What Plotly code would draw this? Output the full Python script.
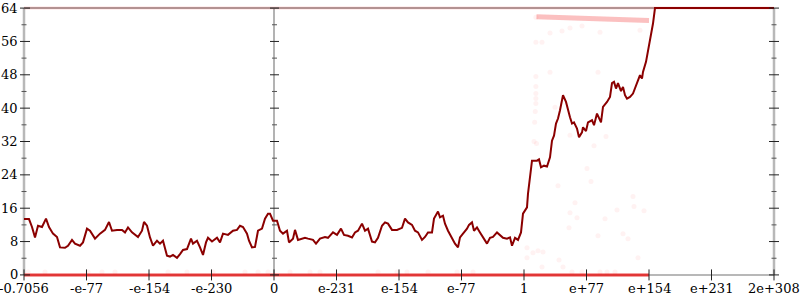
import plotly.graph_objects as go

# ---------------- data ----------------
tick_labels = ["-0.7056", "-e-77", "-e-154", "-e-230", "0", "e-231", "e-154",
               "e-77", "1", "e+77", "e+154", "e+231", "2e+308"]
tick_pos = list(range(len(tick_labels)))
y_major = [0, 8, 16, 24, 32, 40, 48, 56, 64]
y_minor = [4, 12, 20, 28, 36, 44, 52, 60]

err_x = [0, 0.08, 0.128, 0.176, 0.224, 0.288, 0.352, 0.4, 0.464, 0.528, 0.576, 0.656,
         0.704, 0.768, 0.816, 0.896, 0.944, 1.008, 1.056, 1.136, 1.216, 1.296, 1.36,
         1.408, 1.488, 1.568, 1.616, 1.664, 1.728, 1.776, 1.824, 1.888, 1.92, 1.968,
         2.016, 2.064, 2.128, 2.176, 2.224, 2.288, 2.336, 2.384, 2.448, 2.496, 2.544,
         2.608, 2.672, 2.704, 2.768, 2.816, 2.864, 2.912, 2.944, 3.008, 3.088, 3.136,
         3.184, 3.264, 3.344, 3.408, 3.456, 3.504, 3.568, 3.6, 3.648, 3.696, 3.744,
         3.808, 3.856, 3.904, 3.936, 3.984, 4.048, 4.096, 4.144, 4.208, 4.24, 4.304,
         4.336, 4.384, 4.448, 4.496, 4.544, 4.624, 4.672, 4.736, 4.816, 4.864, 4.944,
         5.008, 5.072, 5.12, 5.184, 5.248, 5.296, 5.344, 5.408, 5.456, 5.504, 5.568,
         5.616, 5.664, 5.728, 5.776, 5.824, 5.888, 5.968, 6.048, 6.096, 6.144, 6.208,
         6.256, 6.304, 6.368, 6.416, 6.464, 6.528, 6.56, 6.624, 6.656, 6.704, 6.736,
         6.784, 6.848, 6.896, 6.944, 6.976, 7.024, 7.088, 7.12, 7.168, 7.2, 7.248,
         7.296, 7.344, 7.408, 7.456, 7.504, 7.568, 7.616, 7.664, 7.728, 7.776, 7.808,
         7.856, 7.904, 7.952, 7.984, 8.048, 8.064, 8.096, 8.128, 8.208, 8.24, 8.272,
         8.32, 8.368, 8.416, 8.448, 8.48, 8.512, 8.544, 8.576, 8.624, 8.672, 8.704,
         8.736, 8.768, 8.8, 8.848, 8.88, 8.928, 8.944, 8.992, 9.024, 9.088, 9.12,
         9.168, 9.2, 9.232, 9.264, 9.328, 9.376, 9.408, 9.44, 9.472, 9.504, 9.552,
         9.584, 9.616, 9.648, 9.696, 9.744, 9.792, 9.824, 9.856, 9.888, 9.904, 9.952,
         9.984, 10.032, 10.064, 10.096, 12]
err_y = [13.4, 13.4, 11.5, 9.0, 11.8, 11.5, 13.5, 11.5, 9.9, 9.1, 6.6, 6.5,
         7.0, 8.4, 7.5, 7.0, 7.8, 11.1, 10.6, 8.7, 9.9, 10.8, 12.7,
         10.6, 10.8, 10.8, 10.2, 11.4, 10.2, 9.6, 9.1, 10.6, 12.7, 11.8,
         9.0, 7.0, 8.2, 7.5, 8.2, 4.6, 4.4, 4.8, 4.1, 5.0, 6.0,
         6.2, 8.7, 7.5, 8.2, 6.6, 4.8, 7.8, 8.9, 8.0, 8.9, 7.8,
         9.9, 9.6, 10.6, 10.8, 11.8, 11.5, 9.9, 8.2, 6.6, 6.7, 10.6,
         11.1, 13.5, 14.7, 14.7, 13.0, 13.0, 10.6, 9.9, 10.6, 7.8, 8.7,
         10.8, 8.4, 8.7, 8.9, 8.7, 8.4, 7.5, 8.7, 9.1, 8.9, 10.2,
         9.6, 11.1, 9.6, 9.4, 9.0, 10.2, 10.6, 12.3, 10.6, 11.1, 8.0,
         7.8, 8.9, 11.8, 12.6, 12.3, 10.8, 10.8, 11.3, 13.5, 12.6, 12.0,
         10.6, 10.2, 8.4, 9.1, 10.2, 10.2, 13.5, 15.2, 13.8, 14.2, 12.3,
         10.6, 8.9, 7.5, 6.6, 9.0, 9.9, 11.1, 12.0, 12.6, 10.6, 11.4,
         10.2, 9.1, 7.5, 8.9, 9.1, 10.2, 9.6, 8.9, 8.7, 9.0, 7.0,
         8.9, 8.4, 10.2, 14.7, 16.2, 19.5, 23.4, 27.4, 27.4, 27.7, 25.8,
         26.2, 26.0, 28.2, 32.2, 33.4, 36.3, 37.5, 39.5, 43.1, 41.5, 39.5,
         37.8, 36.3, 36.6, 35.1, 33.0, 34.2, 35.4, 34.5, 36.6, 37.1, 35.9,
         38.7, 37.8, 36.6, 40.3, 41.5, 42.7, 46.0, 46.3, 44.7, 46.0, 44.1,
         45.1, 43.1, 42.3, 42.7, 43.5, 45.5, 46.7, 47.9, 47.1, 48.7, 51.1,
         53.5, 57.1, 60.3, 64.0, 64.0]

# dense clusters of samples at zero error / maximal error
zero_band_x = [0, 10.0]
zero_band_y = [0, 0]
max_band_x = [0, 12]
max_band_y = [64, 64]
streak_x = [8.2, 10.0]
streak_y = [61.9, 61.0]

# individual faint samples
dots_x = [8.19, 8.19, 8.19, 8.19, 8.19, 8.19, 8.19, 8.18, 8.17, 8.16, 8.2,
          8.288, 8.416, 8.416, 8.608, 8.736, 8.928, 9.216, 9.856, 9.184, 8.496,
          8.736, 9.312, 9.12, 9.008, 9.072, 8.544, 8.816, 8.736, 8.848, 9.296,
          9.488, 9.744, 9.76, 9.92, 8.72, 9.184, 9.584, 9.664, 8.304, 8.144,
          8.56, 8.624, 8.288, 9.824, 8.048, 8.048, 8.224,
          0.064, 0.336, 1.024, 1.248, 1.456, 2.304, 2.608, 3.024, 3.536, 3.744,
          3.904, 4.256, 4.576, 4.736, 5.664, 5.968, 6.128, 6.464, 6.928, 7.184,
          8.768, 8.928, 9.216, 9.328, 9.456]
dots_y = [61.8, 55.8, 47.6, 45.2, 43.5, 42.3, 41.1, 39.2, 36.6, 32.0, 31.5,
          55.8, 48.6, 58.0, 58.5, 59.2, 59.7, 58.2, 58.7, 48.6, 40.2,
          33.5, 33.2, 31.0, 25.5, 22.4, 21.4, 17.3, 14.9, 13.7, 13.5,
          15.6, 18.8, 16.4, 15.4, 11.3, 9.4, 9.9, 8.7, 5.5, 5.3,
          3.6, 1.9, 1.9, 4.1, 6.5, 4.1, 5.8,
          0.7, 0.7, 0.7, 0.7, 0.7, 0.7, 0.7, 0.7, 0.7, 0.7,
          0.7, 0.7, 0.7, 0.7, 0.7, 0.7, 0.7, 0.7, 0.7, 0.7,
          0.7, 0.7, 0.7, 0.7, 0.7]

# ---------------- figure ----------------
X_LO, X_HI = 0, 12
Y_LO, Y_HI = -0.5, 64.5


def px(x):
    return (x - X_LO) / (X_HI - X_LO)


def py(y):
    return (y - Y_LO) / (Y_HI - Y_LO)


FONT = dict(family="DejaVu Serif, serif", size=13, color="#000")
AXIS_GRAY = "#b8b8b8"

fig = go.Figure()
fig.add_trace(go.Scatter(x=max_band_x, y=max_band_y, mode="lines",
                         line=dict(color="rgba(255,0,0,0.13)", width=3),
                         hoverinfo="skip"))
fig.add_trace(go.Scatter(x=streak_x, y=streak_y, mode="lines",
                         line=dict(color="rgba(240,30,30,0.28)", width=5),
                         hoverinfo="skip"))
fig.add_trace(go.Scatter(x=dots_x, y=dots_y, mode="markers",
                         marker=dict(color="rgba(255,40,40,0.06)", size=5, line=dict(width=0)),
                         hoverinfo="skip"))
fig.add_trace(go.Scatter(x=zero_band_x, y=zero_band_y, mode="lines",
                         line=dict(color="rgba(232,30,30,0.85)", width=3),
                         hoverinfo="skip"))
fig.add_trace(go.Scatter(x=err_x, y=err_y, mode="lines",
                         line=dict(color="#8b0000", width=2), hoverinfo="skip"))

shapes = []
# axis lines
shapes.append(dict(type="line", xref="paper", yref="paper", x0=0, x1=1,
                   y0=py(0), y1=py(0), line=dict(color=AXIS_GRAY, width=2), layer="below"))
shapes.append(dict(type="line", xref="paper", yref="paper", x0=0, x1=1,
                   y0=py(64), y1=py(64), line=dict(color="#a8a8a8", width=2), layer="below"))
for xv, col, w in [(X_LO, AXIS_GRAY, 2.5), (X_HI, AXIS_GRAY, 2.5), (4, "#9a9a9a", 1.5)]:
    shapes.append(dict(type="line", xref="paper", yref="paper", x0=px(xv), x1=px(xv),
                       y0=py(0), y1=py(64), line=dict(color=col, width=w), layer="below"))

# y ticks on left, middle and right axes
for xv, (a0, a1), (m0, m1) in [(X_LO, (-4, 6), (-2.5, 2.5)),
                               (4, (-4, 5), (-2, 3)),
                               (X_HI, (-5, 5), (-2.5, 2.5))]:
    for v in y_major:
        shapes.append(dict(type="line", xref="paper", yref="paper", xsizemode="pixel",
                           xanchor=px(xv), x0=a0, x1=a1, y0=py(v), y1=py(v),
                           line=dict(color="#222", width=1)))
    for v in y_minor:
        shapes.append(dict(type="line", xref="paper", yref="paper", xsizemode="pixel",
                           xanchor=px(xv), x0=m0, x1=m1, y0=py(v), y1=py(v),
                           line=dict(color="#555", width=1)))
# x ticks
for t in tick_pos:
    shapes.append(dict(type="line", xref="paper", yref="paper", ysizemode="pixel",
                       yanchor=py(0), y0=-5.5, y1=5.5, x0=px(t), x1=px(t),
                       line=dict(color="#222", width=1)))

annotations = []
for v in y_major:
    annotations.append(dict(xref="paper", yref="paper", x=0, y=py(v), text=str(v),
                            showarrow=False, xanchor="right", yanchor="middle",
                            xshift=-4, font=FONT))
for t, lab in zip(tick_pos, tick_labels):
    annotations.append(dict(xref="paper", yref="paper", x=px(t), y=py(0), text=lab,
                            showarrow=False, xanchor="center", yanchor="top",
                            yshift=-4, font=FONT))

fig.update_layout(
    width=800, height=300,
    margin=dict(l=24, r=26, t=6, b=23, pad=0),
    paper_bgcolor="white", plot_bgcolor="white",
    showlegend=False,
    xaxis=dict(range=[X_LO, X_HI], visible=False, fixedrange=True),
    yaxis=dict(range=[Y_LO, Y_HI], visible=False, fixedrange=True),
    shapes=shapes, annotations=annotations,
)

fig.write_html("out.html")
